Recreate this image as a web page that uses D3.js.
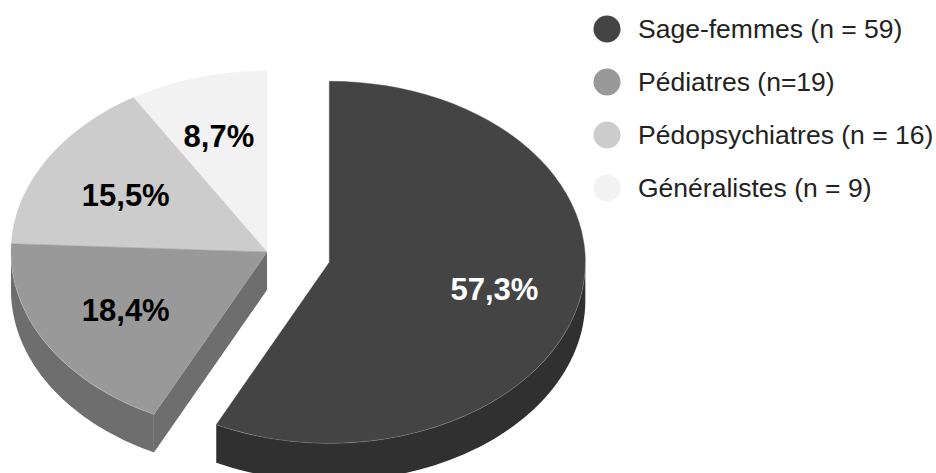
<!DOCTYPE html>
<html>
<head>
<meta charset="utf-8">
<script src="https://cdn.jsdelivr.net/npm/d3@7/dist/d3.min.js"></script>
<style>
  body { margin: 0; background: #fff; }
  text { font-family: "Liberation Sans", Arial, sans-serif; }
</style>
</head>
<body>
<svg id="chart" width="936" height="473"></svg>
<script>
const categories = ["Sage-femmes (n = 59)", "Pédiatres (n=19)", "Pédopsychiatres (n = 16)", "Généralistes (n = 9)"];
const counts = [59, 19, 16, 9];
const pctLabels = ["57,3%", "18,4%", "15,5%", "8,7%"];
const topColors = ["#444444", "#999999", "#cccccc", "#f2f2f2"];
const sideColors = ["#303030", "#6e6e6e", "#8f8f8f", "#aaaaaa"];
const labelColors = ["#ffffff", "#000000", "#000000", "#000000"];

const svg = d3.select("#chart");
const cx = 267, cy = 252, rx = 256, ry = 181, depth = 38, explode = 64;
const squash = ry / rx;
// hand nudges so the labels sit where the original has them
const labelShift = [[3, 0], [2, -2], [2, 3], [-3, -3]];

const pie = d3.pie().sort(null)(counts);
const arc = d3.arc().innerRadius(0).outerRadius(rx);
const labelArc = d3.arc().innerRadius(rx * 0.65).outerRadius(rx * 0.65);

// ellipse point for a pie angle (0 = top, clockwise)
const pt = (a, c) => [c[0] + rx * Math.sin(a), c[1] - ry * Math.cos(a)];
const line = d3.line();

const slices = pie.map((d, i) => {
  const mid = (d.startAngle + d.endAngle) / 2;
  const off = i === 0 ? explode : 0;
  return { ...d, i, c: [cx + off * Math.sin(mid), cy - off * Math.cos(mid) * squash] };
});

// draw back to front: pie remainder first, exploded slice last
const order = [3, 2, 1, 0].map(i => slices[i]);

order.forEach(d => {
  const g = svg.append("g");
  const down = p => [p[0], p[1] + depth];
  let rim = null;

  // cut face, only the one looking at the viewer
  if (d.i === 1) {
    const e = pt(d.startAngle, d.c);
    g.append("path")
      .attr("d", line([d.c, e, down(e), down(d.c)]) + "Z")
      .attr("fill", sideColors[d.i]);
  }

  // outer wall, front half of the ellipse only
  const a0 = Math.max(d.startAngle, Math.PI / 2);
  const a1 = Math.min(d.endAngle, Math.PI * 1.5);
  if (a1 > a0) {
    rim = d3.range(0, 61).map(k => pt(a0 + (a1 - a0) * k / 60, d.c));
    g.append("path")
      .attr("d", line(rim.concat(rim.slice().reverse().map(down))) + "Z")
      .attr("fill", sideColors[d.i]);
  }

  g.append("path")
    .attr("d", arc(d))
    .attr("transform", `translate(${d.c[0]},${d.c[1]}) scale(1,${squash})`)
    .attr("fill", topColors[d.i])
    .attr("stroke", topColors[d.i])
    .attr("stroke-width", 0.5);

  // faint light edge between top and wall
  if (rim) {
    g.append("path")
      .attr("d", line(rim))
      .attr("fill", "none")
      .attr("stroke", "#fff")
      .attr("stroke-opacity", 0.15)
      .attr("stroke-width", 1);
  }

  const lc = labelArc.centroid(d);
  g.append("text")
    .attr("x", d.c[0] + lc[0] + labelShift[d.i][0])
    .attr("y", d.c[1] + lc[1] * squash + 11 + labelShift[d.i][1])
    .attr("text-anchor", "middle")
    .attr("font-size", 31)
    .attr("font-weight", "bold")
    .attr("fill", labelColors[d.i])
    .text(pctLabels[d.i]);
});

const legendY = d3.scalePoint().domain(categories).range([29, 188]);
const legend = svg.append("g").selectAll("g").data(categories).enter().append("g")
  .attr("transform", d => `translate(0,${legendY(d)})`);
legend.append("circle")
  .attr("cx", 607)
  .attr("r", 13.5)
  .attr("fill", (d, i) => topColors[i]);
legend.append("text")
  .attr("x", 638)
  .attr("y", 9)
  .attr("font-size", 26.5)
  .attr("fill", "#222")
  .text(d => d);
</script>
</body>
</html>
